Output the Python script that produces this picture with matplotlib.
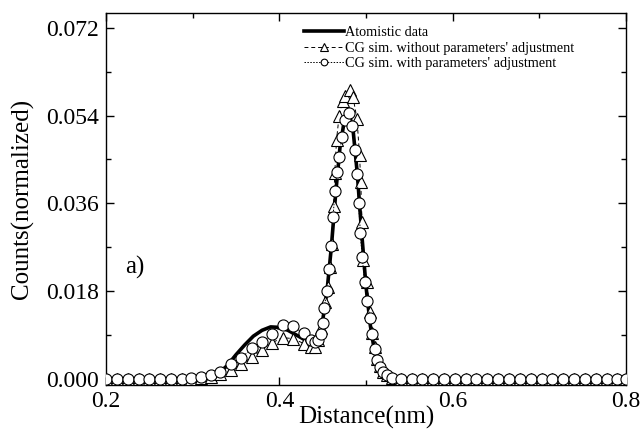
import matplotlib
matplotlib.use("Agg")
import matplotlib.pyplot as plt
from matplotlib.ticker import MultipleLocator, FormatStrFormatter

plt.rcParams['font.family'] = ['Liberation Serif', 'DejaVu Serif']

# Atomistic data (thick solid line)
atom_x = [0.20, 0.25, 0.30, 0.31, 0.32, 0.33, 0.34, 0.35, 0.36, 0.37, 0.38, 0.39,
          0.40, 0.41, 0.42, 0.43, 0.44, 0.445, 0.45, 0.455, 0.46, 0.465, 0.47,
          0.475, 0.48, 0.485, 0.49, 0.495, 0.50, 0.505, 0.51, 0.515, 0.52,
          0.53, 0.54, 0.60, 0.70, 0.80]
atom_y = [0.0, 0.0, 0.0, 0.0002, 0.0005, 0.0012, 0.0028, 0.0050, 0.0070, 0.0088,
          0.0100, 0.0107, 0.0106, 0.0100, 0.0090, 0.0080, 0.0076, 0.0085, 0.0120,
          0.0180, 0.0270, 0.0380, 0.0475, 0.0530, 0.0548, 0.0512, 0.0420, 0.0300,
          0.0190, 0.0110, 0.0055, 0.0025, 0.0010, 0.0002, 0.0, 0.0, 0.0, 0.0]

# CG sim. without parameters' adjustment (triangles)
tri_x = [0.200, 0.2125, 0.225, 0.2375, 0.250, 0.2625, 0.275, 0.2875,
         0.298, 0.310, 0.321, 0.332, 0.344, 0.356, 0.368, 0.380, 0.392, 0.404,
         0.416, 0.428, 0.437, 0.4415, 0.445, 0.448, 0.4525, 0.4562, 0.4585,
         0.4608, 0.4625, 0.4640, 0.4660, 0.4690, 0.4730, 0.4760, 0.4815,
         0.4850, 0.4896, 0.4925, 0.4940, 0.4954, 0.4965, 0.5010, 0.5046,
         0.5075, 0.5100, 0.5125, 0.5160, 0.5195, 0.5240, 0.5300,
         0.540, 0.5525, 0.565, 0.5775, 0.590, 0.6025, 0.615, 0.6275, 0.640,
         0.6525, 0.665, 0.6775, 0.690, 0.7025, 0.715, 0.7275, 0.740, 0.7525,
         0.765, 0.7775, 0.790, 0.800]
tri_y = [0.0, 0.0, 0.0, 0.0, 0.0, 0.0, 0.0, 0.0,
         0.0001, 0.0003, 0.0005, 0.0010, 0.0018, 0.0030, 0.0045, 0.0060, 0.0075,
         0.0085, 0.0083, 0.0073, 0.0066, 0.0066, 0.0080, 0.0105, 0.0157, 0.0188,
         0.0230, 0.0276, 0.0354, 0.0423, 0.0490, 0.0540, 0.0570, 0.0580, 0.0592,
         0.0578, 0.0533, 0.0460, 0.0403, 0.0321, 0.0245, 0.0198, 0.0137,
         0.0095, 0.0065, 0.0042, 0.0026, 0.0015, 0.0008, 0.0003,
         0.0, 0.0, 0.0, 0.0, 0.0, 0.0, 0.0, 0.0, 0.0,
         0.0, 0.0, 0.0, 0.0, 0.0, 0.0, 0.0, 0.0, 0.0,
         0.0, 0.0, 0.0, 0.0]

# CG sim. with parameters' adjustment (circles)
cir_x = [0.200, 0.2125, 0.225, 0.2375, 0.250, 0.2625, 0.275, 0.2875,
         0.298, 0.310, 0.321, 0.332, 0.344, 0.356, 0.368, 0.380, 0.392, 0.404,
         0.416, 0.428, 0.437, 0.441, 0.4445, 0.4475, 0.4500, 0.4520, 0.4545,
         0.4570, 0.4600, 0.4620, 0.4642, 0.4665, 0.4690, 0.4720, 0.4755,
         0.4800, 0.4838, 0.4870, 0.4895, 0.4915, 0.4935, 0.4955, 0.4985,
         0.5015, 0.5045, 0.5075, 0.5100, 0.5125, 0.5160, 0.5195, 0.5240, 0.5300,
         0.540, 0.5525, 0.565, 0.5775, 0.590, 0.6025, 0.615, 0.6275, 0.640,
         0.6525, 0.665, 0.6775, 0.690, 0.7025, 0.715, 0.7275, 0.740, 0.7525,
         0.765, 0.7775, 0.790, 0.800]
cir_y = [0.0, 0.0, 0.0, 0.0, 0.0, 0.0, 0.0, 0.0,
         0.0002, 0.0004, 0.0008, 0.0014, 0.0031, 0.0043, 0.0063, 0.0076, 0.0092,
         0.0110, 0.0108, 0.0094, 0.0080, 0.0076, 0.0080, 0.0092, 0.0115, 0.0145,
         0.0180, 0.0225, 0.0272, 0.0333, 0.0385, 0.0425, 0.0455, 0.0497, 0.0530,
         0.0546, 0.0518, 0.0470, 0.0420, 0.0360, 0.0300, 0.0250, 0.0200,
         0.0160, 0.0125, 0.0092, 0.0062, 0.0040, 0.0025, 0.0014, 0.0008, 0.0003,
         0.0, 0.0, 0.0, 0.0, 0.0, 0.0, 0.0, 0.0, 0.0,
         0.0, 0.0, 0.0, 0.0, 0.0, 0.0, 0.0, 0.0, 0.0,
         0.0, 0.0, 0.0, 0.0]

labels = ["Atomistic data",
          "CG sim. without parameters' adjustment",
          "CG sim. with parameters' adjustment"]

fig = plt.figure(figsize=(6.4, 4.4), dpi=100)
ax = fig.add_axes([106/640, 1-385/440, 520/640, 372/440])

ax.plot(atom_x, atom_y, color='black', lw=2.6, zorder=2, label=labels[0])
ax.plot(tri_x, tri_y, color='black', lw=0.7, ls=(0, (4, 3)), marker='^',
        ms=9, mfc='white', mec='black', mew=0.8, zorder=3, label=labels[1])
ax.plot(cir_x, cir_y, color='black', lw=0.7, ls=(0, (1.5, 1.5)), marker='o',
        ms=8, mfc='white', mec='black', mew=0.8, zorder=4, label=labels[2])

ax.set_xlim(0.2, 0.8)
ax.set_ylim(-0.0012, 0.075)
ax.xaxis.set_major_locator(MultipleLocator(0.2))
ax.xaxis.set_minor_locator(MultipleLocator(0.1))
ax.yaxis.set_major_locator(MultipleLocator(0.018))
ax.yaxis.set_minor_locator(MultipleLocator(0.009))
ax.xaxis.set_major_formatter(FormatStrFormatter('%.1f'))
ax.yaxis.set_major_formatter(FormatStrFormatter('%.3f'))
ax.tick_params(which='both', direction='in', top=True, right=True, width=1.0,
               labelsize=17)
ax.tick_params(which='major', length=6)
ax.tick_params(which='minor', length=3.5)
ax.tick_params(axis='x', pad=4)
ax.tick_params(axis='y', pad=5)
for s in ax.spines.values():
    s.set_linewidth(1.0)

ax.set_xlabel("Distance(nm)", fontsize=18)
ax.set_ylabel("Counts(normalized)", fontsize=18)
ax.xaxis.set_label_coords(0.5, -0.055)
ax.yaxis.set_label_coords(-0.138, 0.5)

ax.text(0.222, 0.0229, "a)", fontsize=18, va='center', ha='left')

ax.legend(loc='upper left', bbox_to_anchor=(0.38, 0.965), frameon=False,
          fontsize=10.3, handlelength=2.8, handletextpad=0.1, labelspacing=0.18,
          markerscale=0.6, borderpad=0, borderaxespad=0)

fig.savefig("out.png", dpi=100)
